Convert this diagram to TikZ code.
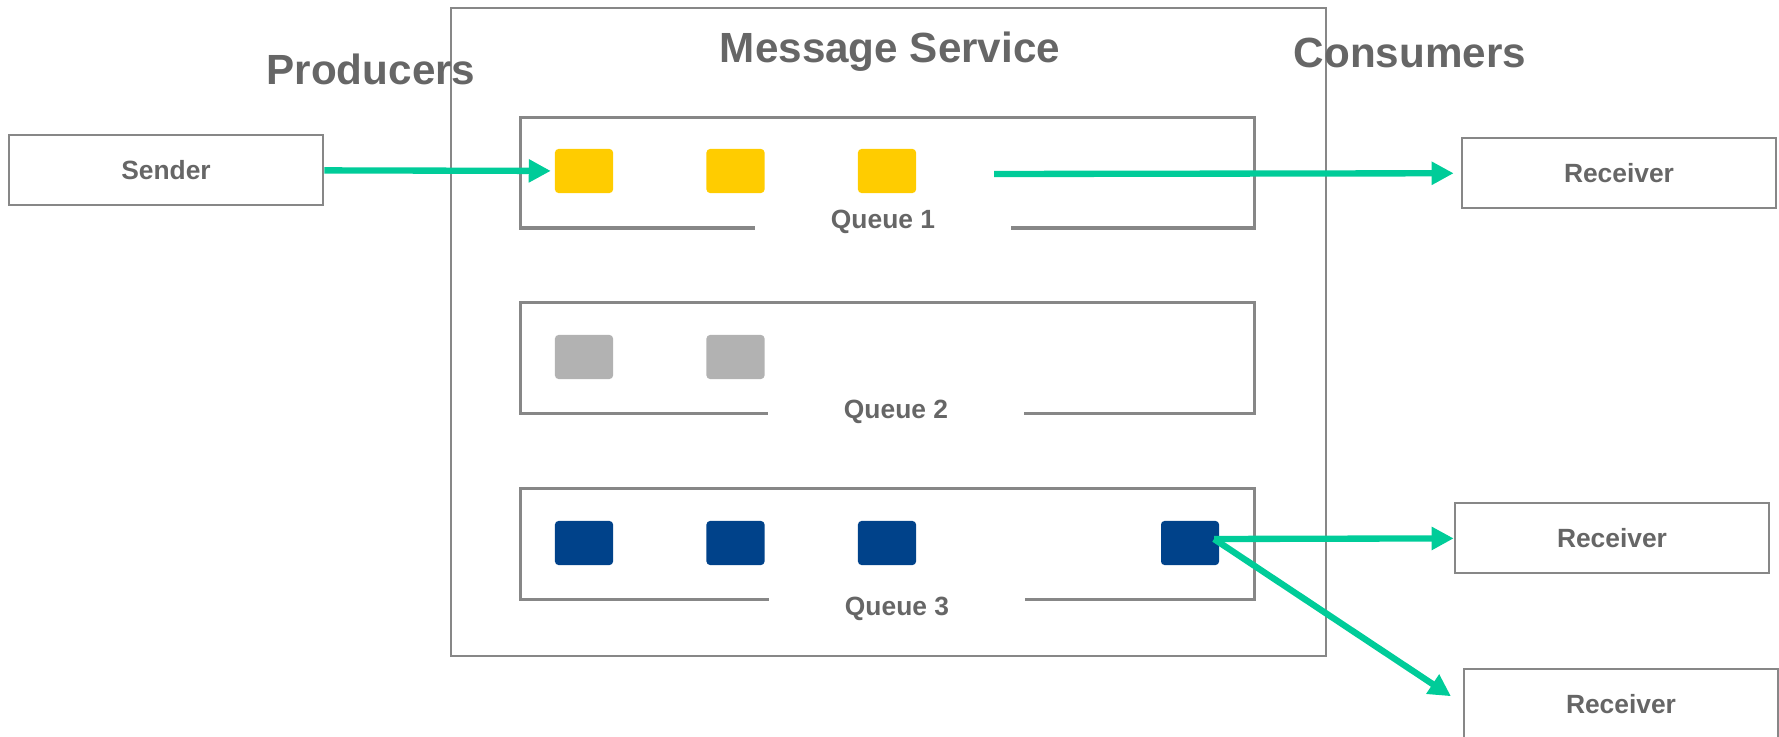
\documentclass[tikz,border=0pt]{standalone}
\usepackage{fontspec}
\setmainfont{Liberation Sans}
\usetikzlibrary{arrows.meta}
\definecolor{ink}{HTML}{666666}
\definecolor{rim}{HTML}{878787}
\definecolor{flow}{HTML}{00CC99}
\definecolor{msgy}{HTML}{FFCC00}
\definecolor{msgg}{HTML}{B2B2B2}
\definecolor{msgb}{HTML}{00428A}

\begin{document}
\begin{tikzpicture}[x=0.01cm, y=-0.01cm, every node/.style={font=\bfseries\fontsize{7.5}{9}\selectfont, text=ink}, head/.style={font=\bfseries\fontsize{12}{14}\selectfont, anchor=base}, box/.style={draw=rim, line width=0.7pt, minimum width=3.14cm, minimum height=0.70cm}, queue/.style={draw=rim, line width=0.9pt, minimum width=7.33cm, minimum height=1.105cm}, qlab/.style={fill=white, minimum width=2.56cm, inner ysep=1pt, anchor=base}, msg/.style={rounded corners=1pt, inner sep=0pt, minimum width=0.58cm, minimum height=0.44cm}, >={Triangle[length=2.2mm, width=2.2mm]}]
\useasboundingbox (0,0) rectangle (1779,737);
\node[draw=rim, line width=0.6pt, minimum width=8.75cm, minimum height=6.48cm] (ms) at (888.5,332) {};
\node[head] (prod) at (371,85) {Producers};
\node[head] (serv) at (890,63) {Message Service};
\node[head] (cons) at (1410,68) {Consumers};
% queues with their label cut into the bottom line
\node[queue] (q1) at (887.5,172.75) {};
\node[queue] (q2) at (887.5,358) {};
\node[queue] (q3) at (887.5,544) {};
\node[qlab] (q1lab) at (883,229) {Queue 1};
\node[qlab] (q2lab) at (896,419) {Queue 2};
\node[qlab] (q3lab) at (897,615) {Queue 3};
\foreach \i in {0,1,2} \node[msg, fill=msgy] (y\i) at (584+151.5*\i,171) {};
\foreach \i in {0,1} \node[msg, fill=msgg] (g\i) at (584+151.5*\i,357) {};
\foreach \i in {0,1,2,4} \node[msg, fill=msgb] (b\i) at (584+151.5*\i,543) {};
\node[box] (snd) at (166,170) {Sender};
\node[box] (r1) at (1619,173) {Receiver};
\node[box] (r2) at (1612,538) {Receiver};
\node[box] (r3) at (1621,704) {Receiver};
\coordinate (q1out) at (994,174);
\coordinate (fork) at (1214,539);
\foreach \a/\b/\s in {snd/y0/1pt, q1out/r1/2pt, fork/r2/0pt, fork/r3.west/4pt} \draw[->, flow, line width=1.8pt, shorten >=\s] (\a) -- (\b);
\end{tikzpicture}
\end{document}
